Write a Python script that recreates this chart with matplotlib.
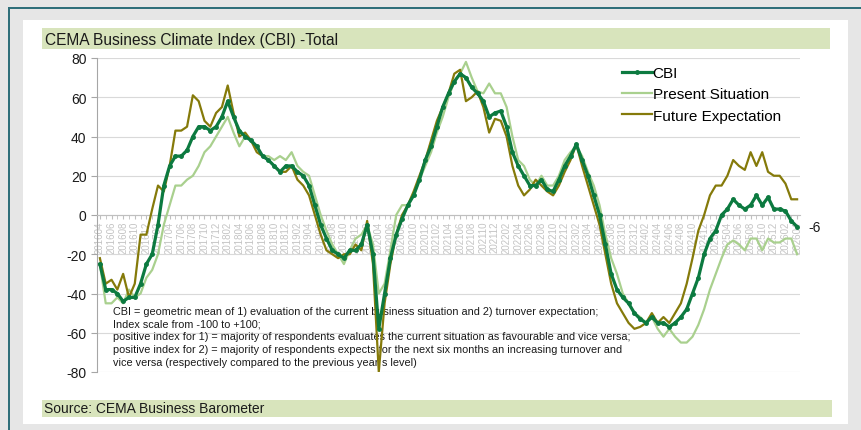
import pandas as pd
import matplotlib.pyplot as plt
from matplotlib.patches import Rectangle

plt.rcParams['font.family'] = ['Liberation Sans', 'DejaVu Sans']
plt.rcParams['axes.unicode_minus'] = False

# monthly categories 201604 .. 202604
months = list(pd.period_range('2016-04', '2026-04', freq='M').strftime('%Y%m'))

cbi = [-25, -38, -38, -40, -44, -42, -42, -35, -25, -20,
       -5, 15, 25, 30, 30, 33, 40, 45, 45, 43,
       45, 50, 58, 50, 43, 40, 38, 35, 30, 28,
       25, 22, 25, 25, 22, 20, 15, 5, -5, -12,
       -18, -20, -22, -18, -18, -15, -5, -20, -58, -40,
       -22, -10, -2, 5, 10, 18, 28, 35, 45, 55,
       62, 68, 72, 70, 65, 62, 58, 50, 52, 53,
       45, 32, 25, 20, 15, 15, 18, 13, 12, 18,
       25, 30, 36, 28, 20, 10, 0, -15, -30, -38,
       -42, -45, -50, -53, -55, -52, -55, -55, -57, -55,
       -52, -48, -40, -32, -20, -12, -8, 0, 3, 8,
       5, 3, 5, 10, 5, 9, 3, 3, 2, -3,
       -6]

present = [-25, -45, -45, -42, -45, -38, -42, -40, -32, -28,
           -20, -5, 5, 15, 15, 18, 20, 25, 32, 35,
           40, 45, 50, 42, 35, 40, 38, 35, 30, 30,
           28, 30, 28, 32, 25, 22, 20, 10, 0, -8,
           -15, -20, -25, -18, -12, -10, -5, -15, -40, -35,
           -18, 0, 5, 5, 10, 18, 25, 32, 42, 50,
           60, 68, 72, 78, 70, 63, 62, 67, 62, 62,
           55, 40, 28, 25, 18, 15, 20, 15, 15, 20,
           28, 32, 35, 30, 22, 15, 5, -10, -22, -30,
           -40, -45, -50, -52, -55, -52, -58, -62, -58, -62,
           -65, -65, -62, -56, -48, -38, -30, -22, -15, -13,
           -15, -18, -12, -12, -18, -12, -14, -14, -12, -12,
           -20]

future = [-22, -35, -33, -38, -30, -42, -35, -10, -10, 3,
          15, 12, 25, 43, 43, 45, 61, 58, 48, 45,
          52, 55, 66, 52, 40, 42, 38, 32, 30, 28,
          25, 22, 22, 25, 18, 15, 10, 0, -10, -18,
          -20, -22, -20, -20, -15, -18, -3, -25, -80, -45,
          -25, -10, 0, 5, 12, 20, 28, 38, 48, 55,
          62, 72, 74, 58, 60, 63, 55, 42, 49, 48,
          40, 25, 15, 10, 13, 18, 15, 12, 10, 15,
          22, 28, 36, 25, 15, 5, -5, -20, -35, -45,
          -50, -55, -58, -57, -55, -50, -55, -52, -55, -50,
          -45, -35, -22, -8, 0, 10, 15, 15, 20, 28,
          25, 23, 32, 25, 32, 22, 20, 20, 16, 8,
          8]

note = ("CBI = geometric mean of 1) evaluation of the current business situation and 2) turnover expectation;\n"
        "Index scale from -100 to +100;\n"
        "positive index for 1) = majority of respondents evaluates the current situation as favourable and vice versa;\n"
        "positive index for 2) = majority of respondents expects for the next six months an increasing turnover and\n"
        "vice versa (respectively compared to the previous year\u00b4s level)")

W, H = 861, 431


def px(x, y, w, h):
    # pixel box (top-left origin) -> figure fraction
    return (x / W, 1 - (y + h) / H), w / W, h / H


fig = plt.figure(figsize=(W / 100, H / 100), dpi=100)
fig.patch.set_facecolor('#e6e6e6')

# frame, white panel, title and source bars
for (x, y, w, h), fc in [((8, 8, 2, 423), '#2f6f7a'), ((8, 8, 853, 2), '#2f6f7a'),
                         ((23, 21, 825, 404), 'white'),
                         ((42, 29, 788, 21), '#d8e4bc'), ((42, 401, 790, 17), '#d8e4bc')]:
    xy, ww, hh = px(x, y, w, h)
    fig.add_artist(Rectangle(xy, ww, hh, transform=fig.transFigure, facecolor=fc,
                             edgecolor='none', zorder=0))

fig.text(45 / W, 1 - 40 / H, 'CEMA Business Climate Index (CBI) -Total', fontsize=11.2,
         va='center', ha='left', color='#1a1a1a')
fig.text(44 / W, 1 - 409.5 / H, 'Source: CEMA Business Barometer', fontsize=10,
         va='center', ha='left', color='#1a1a1a')

ax = fig.add_axes([97 / W, 1 - 373 / H, 703 / W, 314 / H])
ax.set_facecolor('none')
x = list(range(len(months)))

ax.plot(x, present, color='#a9d08e', lw=1.6, label='Present Situation', zorder=3)
ax.plot(x, future, color='#857a0a', lw=1.6, label='Future Expectation', zorder=4)
ax.plot(x, cbi, color='#0c7a40', lw=2.3, marker='o', ms=2.5, label='CBI', zorder=5)

ax.set_xlim(-0.5, len(months) - 0.5)
ax.set_ylim(-80, 80)
ax.set_yticks(range(-80, 81, 20))
ax.tick_params(axis='y', labelsize=10, length=4, color='#a6a6a6', labelcolor='#1a1a1a')
ax.grid(axis='y', color='#d9d9d9', lw=0.8)
ax.set_axisbelow(True)

ax.spines['bottom'].set_position(('data', 0))
for s in ['top', 'right']:
    ax.spines[s].set_visible(False)
ax.spines['left'].set_color('#a6a6a6')
ax.spines['bottom'].set_color('#bfbfbf')
ax.set_xticks(x[::2])
ax.set_xticklabels(months[::2], rotation=90, fontsize=7, color='#c4c4c4')
ax.set_xticks(x, minor=True)
ax.tick_params(axis='x', which='both', length=3, color='#bfbfbf', pad=1)

ax.text(2.2, -46.5, note, fontsize=7.8, va='top', ha='left', color='#1a1a1a',
        linespacing=1.32, zorder=1)
ax.text(len(months) + 1.0, cbi[-1], str(cbi[-1]), fontsize=10, va='center',
        ha='left', color='#1a1a1a', clip_on=False)

h, l = ax.get_legend_handles_labels()
ax.legend([h[2], h[0], h[1]], [l[2], l[0], l[1]], loc='upper left',
          bbox_to_anchor=(622 / W, 1 - 67 / H), bbox_transform=fig.transFigure,
          borderaxespad=0, borderpad=0, frameon=False, fontsize=11,
          handlelength=1.95, handletextpad=0.05, labelspacing=0.48)

fig.savefig('out.png', dpi=100)
